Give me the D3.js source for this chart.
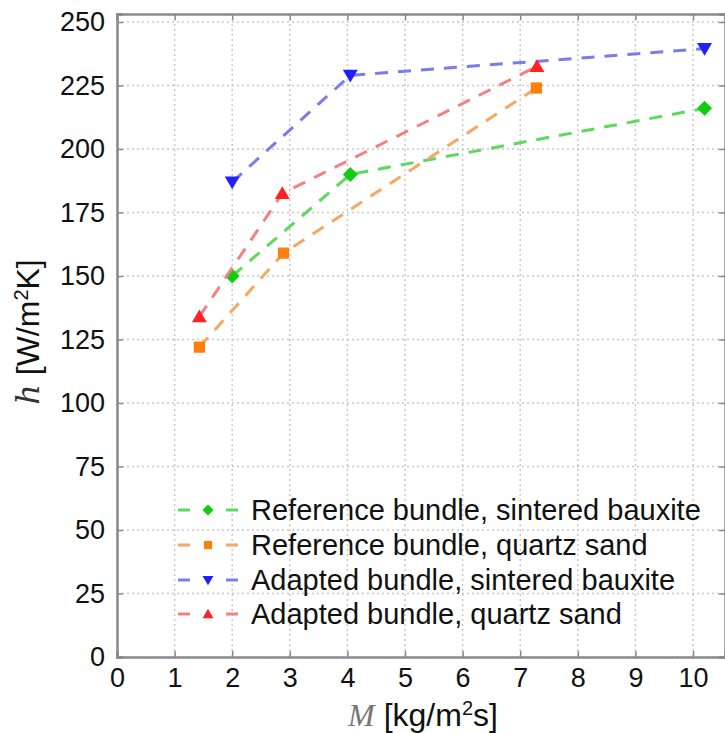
<!DOCTYPE html>
<html><head><meta charset="utf-8">
<script src="https://cdn.jsdelivr.net/npm/d3@7"></script>
<style>body{margin:0;background:#fff}</style>
</head><body>
<svg id="c" width="725" height="733"></svg>
<script>
const xTicks = [0,1,2,3,4,5,6,7,8,9,10];
const yTicks = [0,25,50,75,100,125,150,175,200,225,250];

const refBauxiteX = [2.0, 4.05, 10.2];
const refBauxiteY = [150, 190, 216];
const refQuartzX = [1.43, 2.89, 7.28];
const refQuartzY = [122, 159, 224];
const adaBauxiteX = [2.0, 4.05, 10.2];
const adaBauxiteY = [187, 229, 239.5];
const adaQuartzX = [1.43, 2.87, 7.29];
const adaQuartzY = [134, 182.5, 232.5];

const seriesNames = ["Reference bundle, sintered bauxite","Reference bundle, quartz sand","Adapted bundle, sintered bauxite","Adapted bundle, quartz sand"];

const series = [
  {name: seriesNames[0], xs: refBauxiteX, ys: refBauxiteY, marker: "diamond", mc: "#11cc11", lc: "#5fd85f"},
  {name: seriesNames[1], xs: refQuartzX, ys: refQuartzY, marker: "square", mc: "#ff7f0e", lc: "#f7a765"},
  {name: seriesNames[2], xs: adaBauxiteX, ys: adaBauxiteY, marker: "down", mc: "#2020ff", lc: "#7b7bf0"},
  {name: seriesNames[3], xs: adaQuartzX, ys: adaQuartzY, marker: "up", mc: "#ff2222", lc: "#f48080"}
];

const L = 117, R = 725, T = 14, B = 657;
const x = d3.scaleLinear().domain([0, 10.555]).range([L, R]);
const y = d3.scaleLinear().domain([0, 253.15]).range([B, T]);
const svg = d3.select("#c");
const font = "'Liberation Sans', Arial, Helvetica, sans-serif";

// grid
const g = svg.append("g");
g.selectAll("line.gx").data(xTicks).enter().append("line")
  .attr("x1", d=>x(d)).attr("x2", d=>x(d)).attr("y1", T).attr("y2", B)
  .attr("stroke", "#c8c8c8").attr("stroke-width", 1.5).attr("stroke-dasharray", "2,3");
g.selectAll("line.gy").data(yTicks).enter().append("line")
  .attr("y1", d=>y(d)).attr("y2", d=>y(d)).attr("x1", L).attr("x2", R)
  .attr("stroke", "#c8c8c8").attr("stroke-width", 1.5).attr("stroke-dasharray", "2,3");

// axes (inward ticks)
const axB = d3.axisBottom(x).tickValues(xTicks).tickSize(-6).tickFormat(d3.format("d")).tickPadding(11);
const axL = d3.axisLeft(y).tickValues(yTicks).tickSize(-6).tickFormat(d3.format("d")).tickPadding(12);
const axT = d3.axisTop(x).tickValues(xTicks).tickSize(-6).tickFormat("");
const axR = d3.axisRight(y).tickValues(yTicks).tickSize(-6).tickFormat("");
function style(sel){
  sel.selectAll("path.domain").attr("stroke","#8a8a8a").attr("stroke-width",2.5);
  sel.selectAll(".tick line").attr("stroke","#8a8a8a").attr("stroke-width",1.5);
  sel.selectAll("text").attr("fill","#111").style("font-family",font).style("font-size","27px");
}
svg.append("g").attr("transform",`translate(0,${B})`).call(axB).call(style);
svg.append("g").attr("transform",`translate(${L},0)`).call(axL).call(style);
svg.append("g").attr("transform",`translate(0,${T})`).call(axT).call(style);
svg.append("g").attr("transform",`translate(${R},0)`).call(axR).call(style);

// markers
function markerPath(type, size){
  const s = size;
  if(type==="diamond") return `M0,${-s}L${s},0L0,${s}L${-s},0Z`;
  if(type==="square") return `M${-s*0.75},${-s*0.75}H${s*0.75}V${s*0.75}H${-s*0.75}Z`;
  if(type==="down") return `M${-s},${-s*0.75}H${s}L0,${s*0.95}Z`;
  if(type==="up") return `M${-s},${s*0.75}H${s}L0,${-s*0.95}Z`;
}

const line = d3.line().x(d=>x(d[0])).y(d=>y(d[1]));
series.forEach(s=>{
  const pts = s.xs.map((v,i)=>[v, s.ys[i]]);
  svg.append("path").attr("d", line(pts)).attr("fill","none")
    .attr("stroke", s.lc).attr("stroke-width", 3).attr("stroke-dasharray","13,10");
  svg.selectAll(null).data(pts).enter().append("path")
    .attr("transform", d=>`translate(${x(d[0])},${y(d[1])})`)
    .attr("d", markerPath(s.marker, 7.5)).attr("fill", s.mc);
});

// legend
const legY = [510, 545, 580, 614];
series.forEach((s,i)=>{
  const lg = svg.append("g").attr("transform",`translate(0,${legY[i]})`);
  lg.append("line").attr("x1",178).attr("x2",190).attr("y1",0).attr("y2",0).attr("stroke",s.lc).attr("stroke-width",3);
  lg.append("line").attr("x1",226).attr("x2",238).attr("y1",0).attr("y2",0).attr("stroke",s.lc).attr("stroke-width",3);
  lg.append("path").attr("transform","translate(208,0)").attr("d", markerPath(s.marker, 5.5)).attr("fill", s.mc);
  lg.append("text").attr("x",251).attr("y",0).attr("dy","0.36em").text(s.name)
    .style("font-family",font).style("font-size","29px").attr("fill","#111");
});

// axis titles
const yl = svg.append("text").attr("transform","translate(39,332) rotate(-90)").attr("text-anchor","middle")
  .style("font-family",font).style("font-size","32px").attr("fill","#111");
yl.append("tspan").text("h").style("font-family","'DejaVu Serif', 'Liberation Serif', serif").style("font-style","italic").attr("fill","#333");
yl.append("tspan").text(" [W/m");
yl.append("tspan").text("2").style("font-size","20px").attr("dy","-11");
yl.append("tspan").text("K]").attr("dy","11");

const xl = svg.append("text").attr("x",423).attr("y",726).attr("text-anchor","middle")
  .style("font-family",font).style("font-size","32px").attr("fill","#111");
xl.append("tspan").text("M").style("font-family","'Liberation Serif', serif").style("font-style","italic").attr("fill","#777");
xl.append("tspan").text(" [kg/m");
xl.append("tspan").text("2").style("font-size","20px").attr("dy","-11");
xl.append("tspan").text("s]").attr("dy","11");
</script>
</body></html>
